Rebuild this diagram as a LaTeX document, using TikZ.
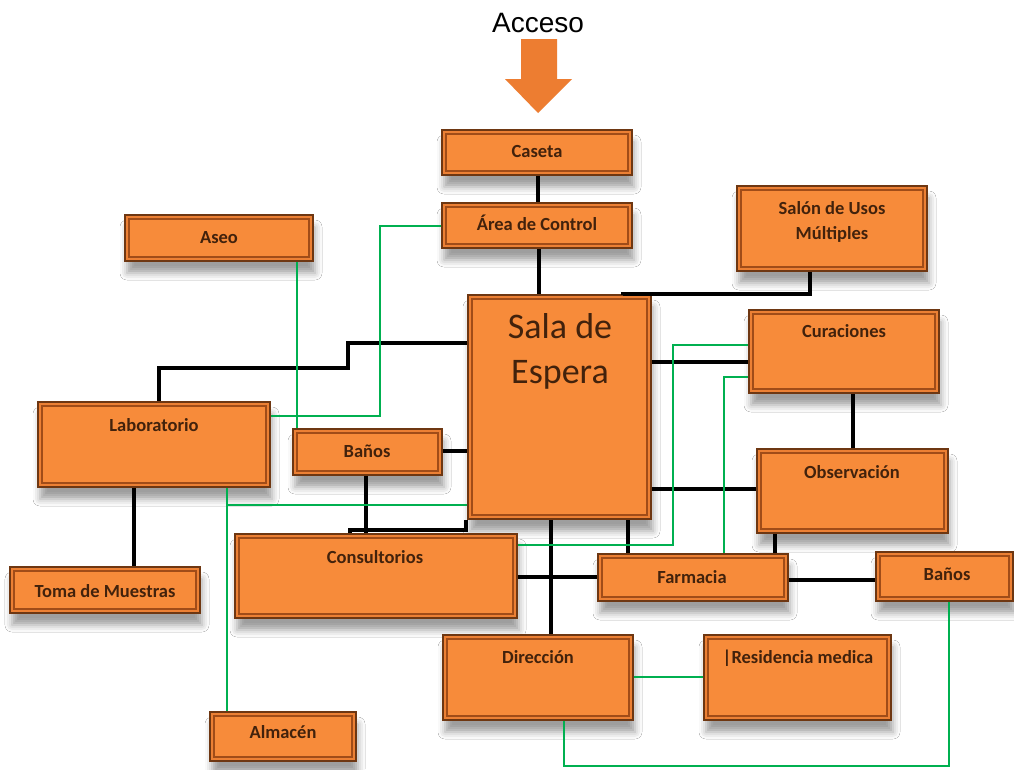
\documentclass[tikz,border=0pt]{standalone}
\usepackage{fontspec}
\setmainfont{Carlito}
\newfontfamily\arialf{Liberation Sans}
\usetikzlibrary{shadows.blur}
\definecolor{boxor}{RGB}{247,139,58}
\definecolor{boxbr}{RGB}{110,55,18}
\definecolor{bevelc}{RGB}{160,76,24}
\definecolor{bandc}{RGB}{236,128,52}
\definecolor{txtbr}{RGB}{66,34,12}
\definecolor{arrowor}{RGB}{237,125,49}
\definecolor{grn}{RGB}{0,176,80}
\tikzset{
  obox/.style={rectangle, draw=boxbr, line width=1.8pt, fill=bandc, inner sep=0pt,
    blur shadow={shadow xshift=2pt, shadow yshift=-12pt, shadow blur radius=7pt, shadow opacity=38}},
  bevelline/.style={draw=bevelc, fill=boxor, line width=1.3pt},
  lbl/.style={text=txtbr, font=\bfseries\fontsize{18.5}{22}\selectfont, inner sep=0pt, anchor=base},
  biglbl/.style={text=txtbr, font=\fontsize{36}{44}\selectfont, inner sep=0pt, anchor=base},
  blk/.style={line width=3.5pt, black},
  gr/.style={line width=2.2pt, grn},
}
\newcommand\obx[5]{%
  \node[obox, minimum width={(#4)-(#2)}, minimum height={(#5)-(#3)}] (#1) at ({((#2)+(#4))/2},{((#3)+(#5))/2}) {};
  \draw[bevelline] ([shift={(5pt,-5pt)}]#1.north west) rectangle ([shift={(-5pt,5pt)}]#1.south east);
}
\begin{document}
\begin{tikzpicture}[x=1pt,y=-1pt]
\useasboundingbox[fill=white] (0,0) rectangle (1014,769);
% access arrow
\node[font=\arialf\fontsize{28}{32}\selectfont, inner sep=0pt, anchor=base] (acc) at (538,32) {Acceso};
\fill[arrowor] (521,39) -- (557,39) -- (557,79) -- (572,79) -- (538,113) -- (505,79) -- (521,79) -- cycle;
% boxes
\obx{cas}{442}{130}{632}{175}
\obx{are}{442}{203}{632}{248}
\obx{aseo}{125}{215}{313}{261}
\obx{sum}{737}{186}{927}{271}
\obx{esp}{468}{295}{651}{519}
\obx{cur}{749}{310}{939}{393}
\obx{lab}{38}{402}{270}{487}
\obx{bl}{293}{429}{442}{475}
\obx{obs}{757}{449}{948}{533}
\obx{con}{235}{534}{517}{618}
\obx{far}{598}{554}{788}{601}
\obx{br}{876}{552}{1013}{601}
\obx{tom}{10}{567}{200}{613}
\obx{dir}{443}{635}{633}{720}
\obx{res}{704}{635}{891}{720}
\obx{alm}{210}{712}{356}{761}
% labels
\node[lbl] (cas-t) at (537,157) {Caseta};
\node[lbl] (are-t) at (537,230) {Área de Control};
\node[lbl] (aseo-t) at (219,243) {Aseo};
\node[lbl] (sum-t1) at (832,214) {Salón de Usos};
\node[lbl] (sum-t2) at (832,239) {Múltiples};
\node[biglbl] (esp-t1) at (560,338) {Sala de};
\node[biglbl] (esp-t2) at (560,383) {Espera};
\node[lbl] (cur-t) at (844,337) {Curaciones};
\node[lbl] (lab-t) at (154,431) {Laboratorio};
\node[lbl] (bl-t) at (367,457) {Baños};
\node[lbl] (obs-t) at (852,478) {Observación};
\node[lbl] (con-t) at (375,563) {Consultorios};
\node[lbl] (far-t) at (692,583) {Farmacia};
\node[lbl] (br-t) at (947,580) {Baños};
\node[lbl] (tom-t) at (105,597) {Toma de Muestras};
\node[lbl] (dir-t) at (538,663) {Dirección};
\node[lbl] (res-t) at (798,663) {|Residencia medica};
\node[lbl] (alm-t) at (283,738) {Almacén};
% black connectors
\draw[blk] (cas.south -| 538,0) -- (are.north -| 538,0);
\draw[blk] (are.south -| 539,0) -- (esp.north -| 539,0);
\draw[blk] (sum.south -| 810,0) |- (623,294) -- (esp.north -| 623,0);
\draw[blk] (esp.west |- 0,343) -- (348,343) -- (348,368) -- (159,368) -- (lab.north -| 159,0);
\draw[blk] (bl.east |- 0,451) -- (esp.west |- 0,451);
\draw[blk] (bl.south -| 366,0) -- (con.north -| 366,0);
\draw[blk] (esp.south -| 466,0) -- (466,530) -- (350,530) -- (con.north -| 350,0);
\draw[blk] (lab.south -| 134,0) -- (tom.north -| 134,0);
\draw[blk] (esp.east |- 0,362) -- (cur.west |- 0,362);
\draw[blk] (esp.east |- 0,489) -- (obs.west |- 0,489);
\draw[blk] (cur.south -| 853,0) -- (obs.north -| 853,0);
\draw[blk] (obs.south -| 775,0) -- (far.north -| 775,0);
\draw[blk] (far.east |- 0,580) -- (br.west |- 0,580);
\draw[blk] (con.east |- 0,577) -- (far.west |- 0,577);
\draw[blk] (esp.south -| 551,0) -- (dir.north -| 551,0);
\draw[blk] (esp.south -| 628,0) -- (far.north -| 628,0);
% green connectors
\draw[gr] (are.west |- 0,226) -- (380,226) -- (380,416) -- (lab.east |- 0,416);
\draw[gr] (aseo.south -| 297,0) -- (bl.north -| 297,0);
\draw[gr] (lab.south -| 227,0) -- (alm.north -| 227,0);
\coordinate (gj) at (227,505);
\draw[gr] (gj) -- (esp.west |- gj);
\draw[gr] (con.east |- 0,545) -- (673,545) -- (673,345) -- (cur.west |- 0,345);
\draw[gr] (cur.west |- 0,377) -- (724,377) -- (far.north -| 724,0);
\draw[gr] (dir.east |- 0,677) -- (res.west |- 0,677);
\draw[gr] (dir.south -| 564,0) -- (564,766) -- (949,766) -- (br.south -| 949,0);
\end{tikzpicture}
\end{document}
